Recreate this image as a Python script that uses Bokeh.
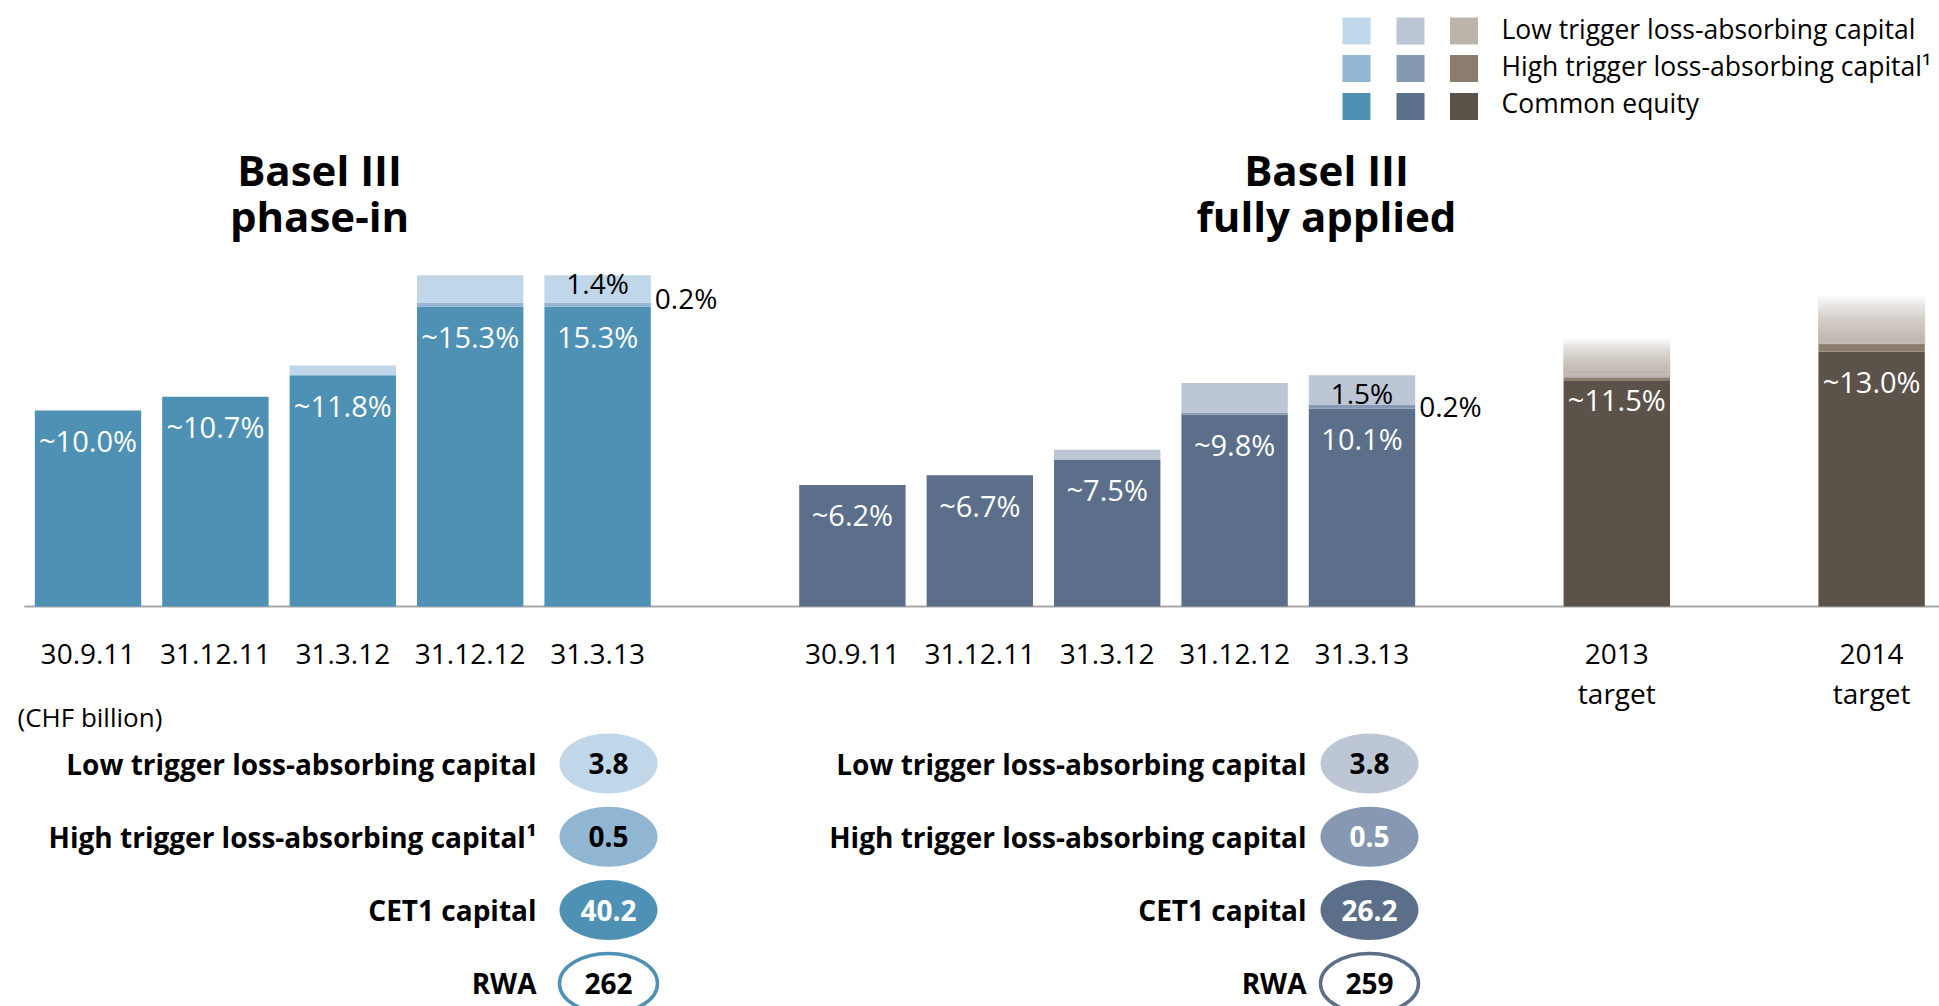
import numpy as np
from bokeh.plotting import figure
from bokeh.models import Range1d, ColumnDataSource
from bokeh.core.properties import value
from bokeh.embed import file_html
from bokeh.resources import INLINE

# ---------------- data ----------------
dates = ["30.9.11", "31.12.11", "31.3.12", "31.12.12", "31.3.13"]

phase_in_common_equity = [10.0, 10.7, 11.8, 15.3, 15.3]
phase_in_high_trigger = [0.0, 0.0, 0.0, 0.2, 0.2]
phase_in_low_trigger = [0.0, 0.0, 0.5, 1.4, 1.4]
phase_in_labels = ["~10.0%", "~10.7%", "~11.8%", "~15.3%", "15.3%"]

fully_common_equity = [6.2, 6.7, 7.5, 9.8, 10.1]
fully_high_trigger = [0.0, 0.0, 0.0, 0.1, 0.2]
fully_low_trigger = [0.0, 0.0, 0.5, 1.5, 1.5]
fully_labels = ["~6.2%", "~6.7%", "~7.5%", "~9.8%", "10.1%"]

target_years = ["2013", "2014"]
target_common_equity = [11.5, 13.0]
target_high_trigger = [0.2, 0.4]
target_low_trigger = [2.0, 2.5]
target_labels = ["~11.5%", "~13.0%"]

legend_labels = ["Low trigger loss-absorbing capital",
                 "High trigger loss-absorbing capital\u00b9",
                 "Common equity"]

table_labels_phase_in = ["Low trigger loss-absorbing capital",
                         "High trigger loss-absorbing capital\u00b9",
                         "CET1 capital", "RWA"]
table_labels_fully = ["Low trigger loss-absorbing capital",
                      "High trigger loss-absorbing capital",
                      "CET1 capital", "RWA"]
table_phase_in_chf = [3.8, 0.5, 40.2, 262]
table_fully_chf = [3.8, 0.5, 26.2, 259]

# ---------------- styles / layout ----------------
PHASE = {"ce": "#4e91b4", "ht": "#90b6d3", "lt": "#c0d7ea"}
FULLY = {"ce": "#5b6f8a", "ht": "#8698b2", "lt": "#bcc6d5"}
TARGET = {"ce": "#5b5249", "ht": "#8b7c6e", "lt": "#bdb4ac"}

FONT = value("Open Sans")
PAGE_W, PAGE_H = 1939, 1006
SLOT0_PX, SLOT_PX = 87.5, 127.4
BASE_PX, PX_PER_PCT = 606, 19.6
BAR_W = 0.835
TXT = dict(text_baseline="alphabetic", text_font=FONT)

p = figure(width=PAGE_W, height=PAGE_H, output_backend="svg", toolbar_location=None,
           x_range=Range1d(-SLOT0_PX / SLOT_PX, (PAGE_W - SLOT0_PX) / SLOT_PX),
           y_range=Range1d((BASE_PX - PAGE_H) / PX_PER_PCT, BASE_PX / PX_PER_PCT),
           x_axis_location=None, y_axis_location=None, min_border=0)
p.extra_x_ranges = {"px": Range1d(0, PAGE_W)}
p.extra_y_ranges = {"py": Range1d(PAGE_H, 0)}
p.grid.visible = False
p.outline_line_color = None
p.background_fill_color = "white"
p.border_fill_color = "white"

# baseline
p.segment(x0=[-0.5], x1=[14.7], y0=[0], y1=[0], line_color="#a8a8a8", line_width=2)


def draw_group(slots, ce, ht, lt, colors, labels, cats, label_offsets, fade=False):
    ce = np.array(ce, float)
    ht = np.array(ht, float)
    lt = np.array(lt, float)
    slots = np.array(slots, float)
    p.vbar(x=slots, width=BAR_W, bottom=0, top=ce, fill_color=colors["ce"], line_color=None)
    m = ht > 0
    p.vbar(x=slots[m], width=BAR_W, bottom=ce[m], top=(ce + ht)[m],
           fill_color=colors["ht"], line_color=None)
    m = lt > 0
    if not fade:
        p.vbar(x=slots[m], width=BAR_W, bottom=(ce + ht)[m], top=(ce + ht + lt)[m],
               fill_color=colors["lt"], line_color=None)
    else:
        n = 30
        for j in range(n):
            a = 1.0 - (j + 0.5) / n
            p.vbar(x=slots[m], width=BAR_W,
                   bottom=(ce + ht + lt * j / n)[m], top=(ce + ht + lt * (j + 1) / n)[m],
                   fill_color=colors["lt"], fill_alpha=a, line_color=colors["lt"],
                   line_alpha=a, line_width=0.5)
    src = ColumnDataSource(dict(x=slots, y=ce, t=labels, off=label_offsets))
    p.text(x="x", y="y", text="t", y_offset="off", source=src, text_align="center",
           text_color="white", text_font_size="29px", **TXT)
    # category labels
    p.text(x=slots, y=np.zeros(len(slots)), text=cats, y_offset=47, text_align="center",
           text_color="black", text_font_size="28px", **TXT)
    return ce, ht, lt, slots


phase_slots = np.arange(len(dates)) + 0
fully_slots = np.arange(len(dates)) + 6
target_slots = np.arange(len(target_years)) * 2 + 12

ce1, ht1, lt1, s1 = draw_group(phase_slots, phase_in_common_equity, phase_in_high_trigger,
                               phase_in_low_trigger, PHASE, phase_in_labels, dates, [30] * 5)
ce2, ht2, lt2, s2 = draw_group(fully_slots, fully_common_equity, fully_high_trigger,
                               fully_low_trigger, FULLY, fully_labels, dates, [30] * 5)
ce3, ht3, lt3, s3 = draw_group(target_slots, target_common_equity, target_high_trigger,
                               target_low_trigger, TARGET, target_labels, target_years,
                               [18, 30], fade=True)
p.text(x=s3, y=np.zeros(len(s3)), text=["target"] * len(s3), y_offset=86, text_align="center",
       text_color="black", text_font_size="28px", **TXT)

# annotations on the latest bars: low trigger (inside) and high trigger (to the right)
for ce, ht, lt, s, off_lt, off_ht in [(ce1, ht1, lt1, s1, -6, -6.5), (ce2, ht2, lt2, s2, 3, -1)]:
    i = len(s) - 1
    p.text(x=[s[i]], y=[ce[i] + ht[i] + lt[i] / 2], text=[f"{lt[i]:.1f}%"], y_offset=off_lt,
           text_align="center", text_color="black", text_font_size="28px", **TXT)
    p.text(x=[s[i] + BAR_W / 2], y=[ce[i] + ht[i] / 2], text=[f"{ht[i]:.1f}%"], x_offset=4,
           y_offset=off_ht, text_align="left", text_color="black", text_font_size="28px",
           **TXT)

# titles
for cx, lines in [(319, ["Basel III", "phase-in"]), (1326, ["Basel III", "fully applied"])]:
    p.text(x=[cx, cx], y=[169, 215], text=lines, x_range_name="px", y_range_name="py",
           text_align="center", text_color="black", text_font_style="bold",
           text_font_size="42px", **TXT)

# legend
leg_cols = [PHASE, FULLY, TARGET]
leg_keys = ["lt", "ht", "ce"]
leg_y = [30.5, 68, 106]
leg_x = [1356, 1410, 1463.5]
for r, key in enumerate(leg_keys):
    p.rect(x=leg_x, y=[leg_y[r]] * 3, width=28, height=27, width_units="screen",
           height_units="screen", fill_color=[c[key] for c in leg_cols], line_color=None,
           x_range_name="px", y_range_name="py")
p.text(x=[1501] * 3, y=[28, 65, 102.5], text=legend_labels, x_range_name="px",
       y_range_name="py", text_align="left", text_color="black", text_font_size="26.5px",
       **TXT)

# table
p.text(x=[17], y=[716], text=["(CHF billion)"], x_range_name="px", y_range_name="py",
       text_align="left", text_color="black", text_font_size="26px", **TXT)
row_y = [763, 836.3, 909.6, 982.9]
for lab_x, ell_x, labels, vals, cols, txtcols in [
        (536, 608, table_labels_phase_in, table_phase_in_chf, PHASE,
         ["black", "black", "white", "black"]),
        (1306, 1369, table_labels_fully, table_fully_chf, FULLY,
         ["black", "white", "white", "black"])]:
    p.text(x=[lab_x] * 4, y=row_y, x_range_name="px", text=labels,
           y_range_name="py", text_align="right", text_color="black",
           text_font_style="bold", text_font_size="28px", **TXT)
    fills = [cols["lt"], cols["ht"], cols["ce"], "white"]
    lines = [None, None, None, cols["ce"]]
    for k in range(4):
        p.ellipse(x=[ell_x], y=[row_y[k]], width=98, height=60, width_units="screen",
                  height_units="screen", fill_color=fills[k], line_color=lines[k],
                  line_width=3.5, x_range_name="px", y_range_name="py")
    p.text(x=[ell_x] * 4, y=row_y, text=[f"{v:g}" for v in vals],
           x_range_name="px", y_range_name="py", text_align="center",
           text_color=txtcols, text_font_style="bold", text_font_size="28px", **TXT)

open("out.html", "w").write(file_html(p, INLINE))
